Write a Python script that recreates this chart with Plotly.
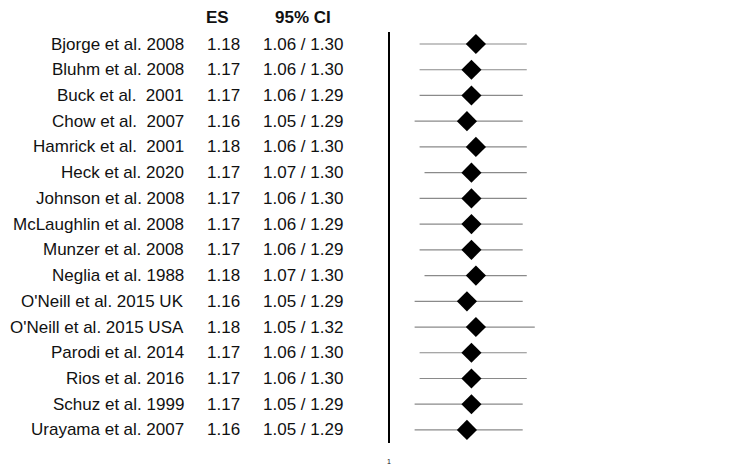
import plotly.graph_objects as go

studies = ["Bjorge et al. 2008", "Bluhm et al. 2008", "Buck et al.  2001", "Chow et al.  2007",
           "Hamrick et al.  2001", "Heck et al. 2020", "Johnson et al. 2008", "McLaughlin et al. 2008",
           "Munzer et al. 2008", "Neglia et al. 1988", "O'Neill et al. 2015 UK", "O'Neill et al. 2015 USA",
           "Parodi et al. 2014", "Rios et al. 2016", "Schuz et al. 1999", "Urayama et al. 2007"]
es = [1.18, 1.17, 1.17, 1.16, 1.18, 1.17, 1.17, 1.17, 1.17, 1.18, 1.16, 1.18, 1.17, 1.17, 1.17, 1.16]
lo = [1.06, 1.06, 1.06, 1.05, 1.06, 1.07, 1.06, 1.06, 1.06, 1.07, 1.05, 1.05, 1.06, 1.06, 1.05, 1.05]
hi = [1.30, 1.30, 1.29, 1.29, 1.30, 1.30, 1.30, 1.29, 1.29, 1.30, 1.29, 1.32, 1.30, 1.30, 1.29, 1.29]
col_headers = ["ES", "95% CI"]
ref_value = 1

OFF = 8  # page body margin
W, H = 751 - OFF, 466 - OFF
row0, step = 44.0 - OFF, 25.73

def ypix(p):
    return (p - OFF - row0) / step

def xpaper(p):
    return (p - OFF) / W

n = len(studies)
ypos = list(range(n))

fig = go.Figure()
fig.add_trace(go.Scatter(
    x=es, y=ypos, mode="markers",
    marker=dict(symbol="diamond", size=15.5, color="black", line=dict(width=0)),
    error_x=dict(type="data", symmetric=False,
                 array=[h - e for h, e in zip(hi, es)],
                 arrayminus=[e - l for e, l in zip(es, lo)],
                 color="#8a8a8a", thickness=1.2, width=0),
    showlegend=False, hoverinfo="skip"))

# reference line
fig.add_shape(type="line", xref="x", yref="y", x0=ref_value, x1=ref_value,
              y0=ypix(32), y1=ypix(443), line=dict(color="black", width=2))

font = dict(family="Liberation Sans, Arial, sans-serif", size=17, color="#111")
ann = []
for i, (s, e, l, h) in enumerate(zip(studies, es, lo, hi)):
    ann.append(dict(x=xpaper(186), xref="paper", y=i, yref="y", text=s, showarrow=False,
                    xanchor="right", yanchor="middle", font=font))
    ann.append(dict(x=xpaper(223), xref="paper", y=i, yref="y", text=f"{e:.2f}", showarrow=False,
                    xanchor="center", yanchor="middle", font=font))
    ann.append(dict(x=xpaper(303), xref="paper", y=i, yref="y", text=f"{l:.2f} / {h:.2f}", showarrow=False,
                    xanchor="center", yanchor="middle", font=font))
bold = dict(font, size=17)
ann.append(dict(x=xpaper(217), xref="paper", y=ypix(17), yref="y", text="<b>" + col_headers[0] + "</b>",
                showarrow=False, xanchor="center", yanchor="middle", font=bold))
ann.append(dict(x=xpaper(303), xref="paper", y=ypix(17), yref="y", text="<b>" + col_headers[1] + "</b>",
                showarrow=False, xanchor="center", yanchor="middle", font=bold))
ann.append(dict(x=0, xref="x", y=ypix(461), yref="y", text=str(ref_value), showarrow=False,
                xanchor="center", yanchor="middle",
                font=dict(family="Liberation Sans, Arial, sans-serif", size=7, color="#111")))

kpx = 1209.0  # px per decade
left, right = 380, 740
lx0 = -(389 - left) / kpx
lx1 = lx0 + (right - left) / kpx

fig.update_layout(
    width=W, height=H, margin=dict(l=0, r=0, t=0, b=0),
    paper_bgcolor="white", plot_bgcolor="white",
    xaxis=dict(type="log", range=[lx0, lx1], domain=[xpaper(left), xpaper(right)],
               visible=False, showgrid=False, zeroline=False),
    yaxis=dict(range=[ypix(466), ypix(OFF)], visible=False, showgrid=False, zeroline=False),
    annotations=ann)

fig.write_html("out.html")
